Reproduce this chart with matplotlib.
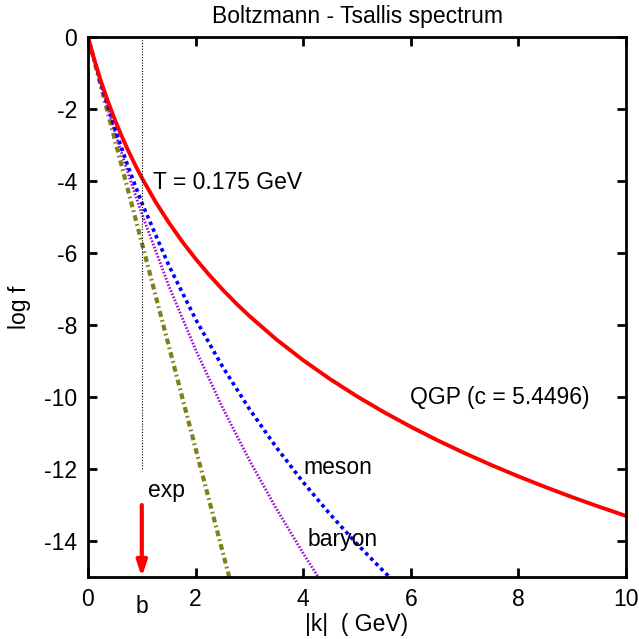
import matplotlib
matplotlib.use("Agg")
import matplotlib.pyplot as plt

plt.rcParams['font.family'] = ['Liberation Sans', 'DejaVu Sans']

# QGP (red, solid)
qgp_k = [0, 0.125, 0.25, 0.375, 0.5, 0.625, 0.75, 0.875, 1, 1.25, 1.5, 1.75, 2,
         2.25, 2.5, 2.75, 3, 3.5, 4, 4.5, 5, 5.5, 6, 6.5, 7, 7.5, 8, 8.5, 9,
         9.5, 10]
qgp_y = [0, -0.6712, -1.2687, -1.8072, -2.2972, -2.7467, -3.1620, -3.5478,
         -3.9081, -4.5643, -5.1499, -5.6786, -6.1606, -6.6034, -7.0130,
         -7.3938, -7.7497, -8.3987, -8.9785, -9.5026, -9.9806, -10.4200,
         -10.8267, -11.2050, -11.5590, -11.8911, -12.2044, -12.5004, -12.7814,
         -13.0483, -13.3030]

# meson (blue, dotted)
meson_k = [0, 0.25, 0.5, 0.75, 1, 1.5, 2, 2.5, 3, 3.5, 4, 4.5, 5, 5.5, 5.6]
meson_y = [0, -1.343, -2.540, -3.619, -4.603, -6.338, -7.838, -9.155, -10.332,
           -11.397, -12.367, -13.258, -14.082, -14.849, -14.996]

# baryon (purple, fine dotted)
baryon_k = [0, 0.25, 0.5, 0.75, 1, 1.5, 2, 2.5, 3, 3.5, 4, 4.27]
baryon_y = [0, -1.370, -2.635, -3.810, -4.907, -6.903, -8.684, -10.291, -11.755,
            -13.100, -14.344, -14.978]

# exp (olive, dash-dot)
exp_k = [0, 0.5, 1, 1.5, 2, 2.625]
exp_y = [0, -2.857, -5.714, -8.571, -11.429, -15.0]

xticks = [0, 2, 4, 6, 8, 10]
yticks = [0, -2, -4, -6, -8, -10, -12, -14]

fs = 16.5
fig = plt.figure(figsize=(6.39, 6.39), dpi=100)
ax = fig.add_axes([0.1377, 0.0970, 0.842, 0.845])

ax.plot(exp_k, exp_y, color='#808018', lw=3.0, dashes=(1.4, 0.8, 0.4, 0.8))
ax.plot(baryon_k, baryon_y, color='#a010d0', lw=2.0, dashes=(0.6, 0.6))
ax.plot(meson_k, meson_y, color='#0000ff', lw=2.6, dashes=(1, 1.0))
ax.plot(qgp_k, qgp_y, color='#ff0000', lw=2.8)

# vertical dotted marker line at k = 1
ax.plot([1, 1], [0, -12], color='black', lw=0.8, dashes=(1, 1.5))
# red arrow
ax.annotate('', xy=(1, -15), xytext=(1, -13),
            arrowprops=dict(arrowstyle='-|>,head_length=0.9,head_width=0.3',
                            color='#ff0000', lw=3, shrinkA=0, shrinkB=0))

ax.text(1.2, -4.05, 'T = 0.175 GeV', fontsize=fs, va='center', ha='left')
ax.text(5.98, -10.0, 'QGP (c = 5.4496)', fontsize=fs, va='center', ha='left')
ax.text(4.0, -11.95, 'meson', fontsize=fs, va='center', ha='left')
ax.text(4.09, -13.95, 'baryon', fontsize=fs, va='center', ha='left')
ax.text(1.12, -12.6, 'exp', fontsize=fs, va='center', ha='left')
ax.text(1.0, -15.5, 'b', fontsize=fs, va='top', ha='center')

ax.set_xlim(0, 10)
ax.set_ylim(-15, 0)
ax.set_xticks(xticks)
ax.set_yticks(yticks)
ax.set_xticklabels([str(v) for v in xticks], fontsize=fs)
ax.set_yticklabels([str(v) for v in yticks], fontsize=fs)
ax.tick_params(direction='in', length=6.5, width=2, top=True, right=True, pad=8)
for s in ax.spines.values():
    s.set_linewidth(2)

ax.set_xlabel('|k|  ( GeV)', fontsize=fs, labelpad=1)
ax.set_ylabel('log f', fontsize=fs, labelpad=9)
ax.set_title('Boltzmann - Tsallis spectrum', fontsize=fs, pad=10)

fig.savefig('out.png', dpi=100)
